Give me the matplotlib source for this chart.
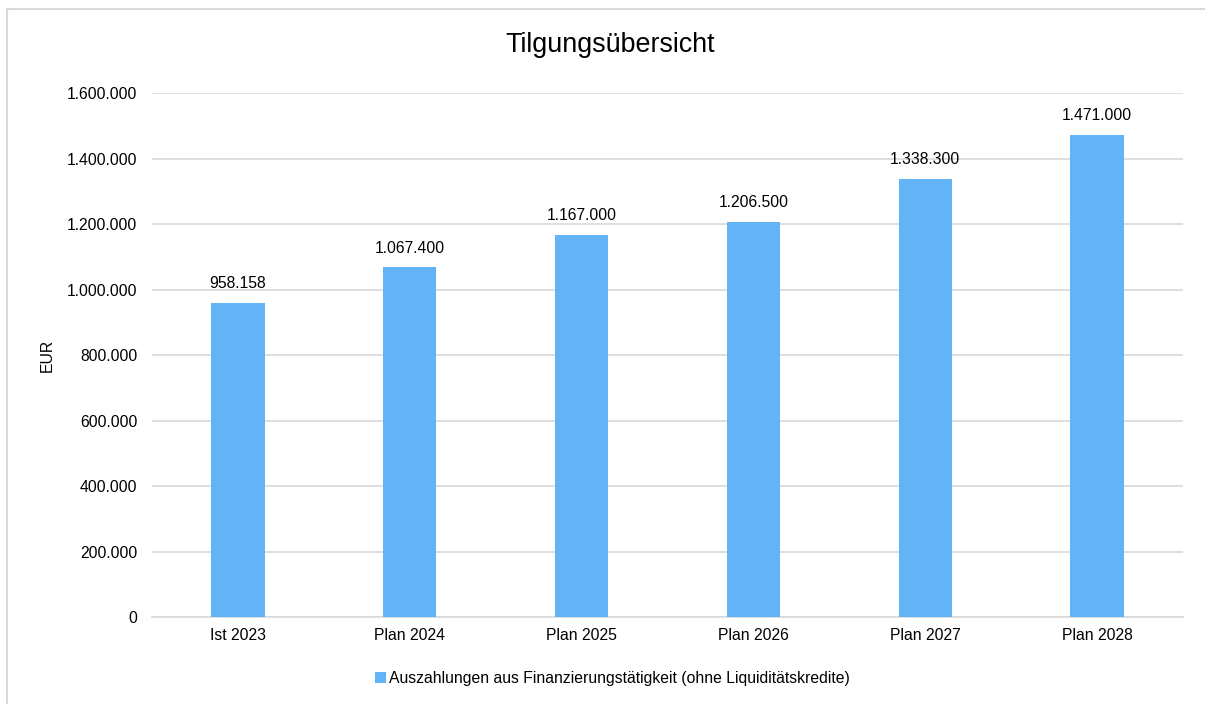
import matplotlib.pyplot as plt
from matplotlib.patches import Rectangle
from matplotlib.ticker import FuncFormatter

plt.rcParams['font.family'] = ['Liberation Sans', 'DejaVu Sans']

kategorien = ['Ist 2023', 'Plan 2024', 'Plan 2025', 'Plan 2026', 'Plan 2027', 'Plan 2028']
werte = [958158, 1067400, 1167000, 1206500, 1338300, 1471000]
serie = 'Auszahlungen aus Finanzierungstätigkeit (ohne Liquiditätskredite)'


def de_fmt(v):
    return f'{int(round(v)):,}'.replace(',', '.')


fig = plt.figure(figsize=(12.05, 7.04), dpi=100)
fig.patches.append(Rectangle((7 / 1205, -0.01), 1.0, 1 - 8.5 / 704 + 0.01,
                             transform=fig.transFigure, fill=False,
                             edgecolor='#D9D9D9', linewidth=1.5))
ax = fig.add_axes([152 / 1205, 1 - 617 / 704, (1183 - 152) / 1205, (617 - 93) / 704])

x = range(len(kategorien))
bars = ax.bar(x, werte, width=0.31, color='#63B4F6', label=serie, zorder=3)
for b, v in zip(bars, werte):
    ax.text(b.get_x() + b.get_width() / 2, v + 36000, de_fmt(v),
            ha='center', va='bottom', fontsize=11.3, color='#000000')

ax.set_xlim(-0.5, len(kategorien) - 0.5)
ax.set_ylim(0, 1600000)
ax.set_yticks(range(0, 1600001, 200000))
ax.yaxis.set_major_formatter(FuncFormatter(lambda v, p: de_fmt(v)))
ax.set_xticks(list(x))
ax.set_xticklabels(kategorien)
ax.tick_params(axis='both', length=0, labelsize=11.3, colors='#000000')
ax.tick_params(axis='y', pad=10.5)
ax.tick_params(axis='x', pad=8)
ax.grid(axis='y', color='#D9D9D9', linewidth=1.2, zorder=0)
for s in ['top', 'right', 'left']:
    ax.spines[s].set_visible(False)
ax.spines['bottom'].set_color('#D9D9D9')
ax.spines['bottom'].set_linewidth(1.2)
ax.set_ylabel('EUR', fontsize=11.3, labelpad=9)

fig.text(610 / 1205, 1 - 45 / 704, 'Tilgungsübersicht', ha='center', va='center', fontsize=19.4)
fig.legend(loc='center', bbox_to_anchor=(612 / 1205, 1 - 678 / 704), frameon=False,
           fontsize=11.3, handlelength=0.7, handleheight=0.7, handletextpad=0.2)

fig.savefig('out.png', dpi=100)
